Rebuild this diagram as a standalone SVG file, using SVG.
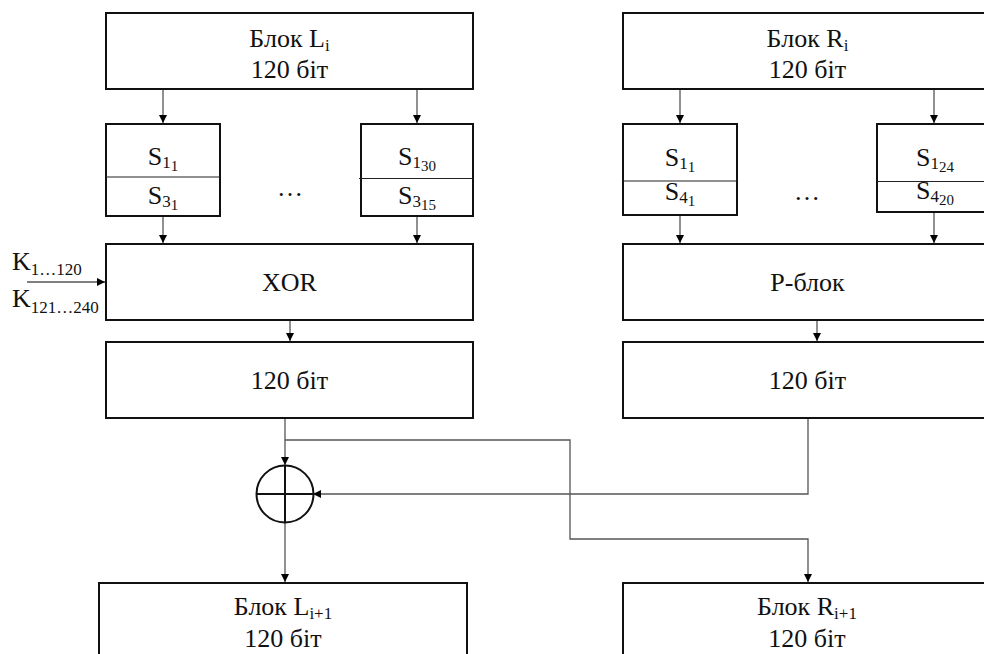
<svg xmlns="http://www.w3.org/2000/svg" width="984" height="654" viewBox="0 0 984 654" font-family="Liberation Serif, Times New Roman, DejaVu Serif, serif">
<style>
.box{fill:#fff;stroke:#111;stroke-width:2}
.div{stroke:#222;stroke-width:1.2}
text{font-size:26px;fill:#111}
.c{fill:none;stroke:#555;stroke-width:1.3}
.ln{stroke:#111;stroke-width:2;fill:none}
</style>
<defs>
<marker id="ar" markerUnits="userSpaceOnUse" markerWidth="9" markerHeight="9" refX="8" refY="4" orient="auto">
<path d="M0,0 L8,4 L0,8 z" fill="#000"/>
</marker>
</defs>
<rect width="984" height="654" fill="#fff"/>

<g id="connectors">
<line class="c" x1="163" y1="89" x2="163" y2="123" marker-end="url(#ar)"/>
<line class="c" x1="417" y1="89" x2="417" y2="123" marker-end="url(#ar)"/>
<line class="c" x1="680" y1="89" x2="680" y2="123" marker-end="url(#ar)"/>
<line class="c" x1="934" y1="89" x2="934" y2="123" marker-end="url(#ar)"/>
<line class="c" x1="163" y1="216" x2="163" y2="243" marker-end="url(#ar)"/>
<line class="c" x1="417" y1="216" x2="417" y2="243" marker-end="url(#ar)"/>
<line class="c" x1="680" y1="215" x2="680" y2="243" marker-end="url(#ar)"/>
<line class="c" x1="934" y1="212" x2="934" y2="243" marker-end="url(#ar)"/>
<line class="c" x1="27" y1="282" x2="105" y2="282" marker-end="url(#ar)"/>
<line class="c" x1="290" y1="320" x2="290" y2="341" marker-end="url(#ar)"/>
<line class="c" x1="817" y1="320" x2="817" y2="341" marker-end="url(#ar)"/>
<line class="c" x1="285" y1="418" x2="285" y2="465" marker-end="url(#ar)"/>
<polyline class="c" points="285,440 570,440 570,539 808,539 808,582" marker-end="url(#ar)"/>
<polyline class="c" points="808,418 808,494 313,494" marker-end="url(#ar)"/>
<line class="c" x1="285" y1="523" x2="285" y2="582" marker-end="url(#ar)"/>
</g>

<g id="blockLi">
<rect class="box" x="106" y="13" width="367" height="76"/>
<text x="289.5" y="47" text-anchor="middle">Блок L<tspan font-size="17" dy="4">i</tspan></text>
<text x="289.5" y="78" text-anchor="middle">120 біт</text>
</g>
<g id="blockRi">
<rect class="box" x="623" y="13" width="369" height="76"/>
<text x="807.5" y="47" text-anchor="middle">Блок R<tspan font-size="17" dy="4">i</tspan></text>
<text x="807.5" y="78" text-anchor="middle">120 біт</text>
</g>

<g id="sL1">
<rect class="box" x="106" y="124" width="114" height="92"/>
<line class="div" x1="106" y1="177" x2="220" y2="177"/>
<text x="163" y="165" text-anchor="middle">S<tspan font-size="17" dy="3">1</tspan><tspan font-size="15" dy="3">1</tspan></text>
<text x="163" y="204" text-anchor="middle">S<tspan font-size="17" dy="3">3</tspan><tspan font-size="15" dy="3">1</tspan></text>
</g>
<g id="sL2">
<rect class="box" x="361" y="124" width="112" height="92"/>
<line class="div" x1="359" y1="178.5" x2="473" y2="178.5"/>
<text x="417" y="165" text-anchor="middle">S<tspan font-size="17" dy="3">1</tspan><tspan font-size="15" dy="3">30</tspan></text>
<text x="417" y="204" text-anchor="middle">S<tspan font-size="17" dy="3">3</tspan><tspan font-size="15" dy="3">15</tspan></text>
</g>
<text x="290" y="196" text-anchor="middle">…</text>

<g id="sR1">
<rect class="box" x="623" y="124" width="114" height="91"/>
<line class="div" x1="623" y1="181" x2="737" y2="181"/>
<text x="680" y="166" text-anchor="middle">S<tspan font-size="17" dy="3">1</tspan><tspan font-size="15" dy="3">1</tspan></text>
<text x="680" y="200" text-anchor="middle">S<tspan font-size="17" dy="3">4</tspan><tspan font-size="15" dy="3">1</tspan></text>
</g>
<g id="sR2">
<rect class="box" x="877" y="124" width="116" height="88"/>
<line class="div" x1="877" y1="181.5" x2="993" y2="181.5"/>
<text x="935" y="166" text-anchor="middle">S<tspan font-size="17" dy="3">1</tspan><tspan font-size="15" dy="3">24</tspan></text>
<text x="935" y="199" text-anchor="middle">S<tspan font-size="17" dy="3">4</tspan><tspan font-size="15" dy="3">20</tspan></text>
</g>
<text x="807" y="200" text-anchor="middle">…</text>

<g id="keys">
<text x="12" y="270">K<tspan font-size="17" dy="5">1…120</tspan></text>
<text x="12" y="307">K<tspan font-size="17" dy="6">121…240</tspan></text>
</g>

<g id="xor">
<rect class="box" x="106" y="244" width="367" height="76"/>
<text x="289.5" y="291" text-anchor="middle">XOR</text>
</g>
<g id="pblock">
<rect class="box" x="623" y="244" width="369" height="76"/>
<text x="807.5" y="291" text-anchor="middle">P-блок</text>
</g>
<g id="outL">
<rect class="box" x="106" y="342" width="367" height="76"/>
<text x="289.5" y="389" text-anchor="middle">120 біт</text>
</g>
<g id="outR">
<rect class="box" x="623" y="342" width="369" height="76"/>
<text x="807.5" y="389" text-anchor="middle">120 біт</text>
</g>

<g id="xorop">
<circle class="ln" cx="285" cy="494" r="28.5"/>
<line class="ln" x1="256.5" y1="494" x2="313.5" y2="494"/>
<line class="ln" x1="285" y1="465.5" x2="285" y2="522.5"/>
</g>

<g id="blockLi1">
<rect class="box" x="99" y="583" width="368" height="100"/>
<text x="283" y="615" text-anchor="middle">Блок L<tspan font-size="17" dy="4">i+1</tspan></text>
<text x="283" y="647" text-anchor="middle">120 біт</text>
</g>
<g id="blockRi1">
<rect class="box" x="623" y="583" width="369" height="100"/>
<text x="807" y="615" text-anchor="middle">Блок R<tspan font-size="17" dy="4">i+1</tspan></text>
<text x="807" y="647" text-anchor="middle">120 біт</text>
</g>
</svg>
